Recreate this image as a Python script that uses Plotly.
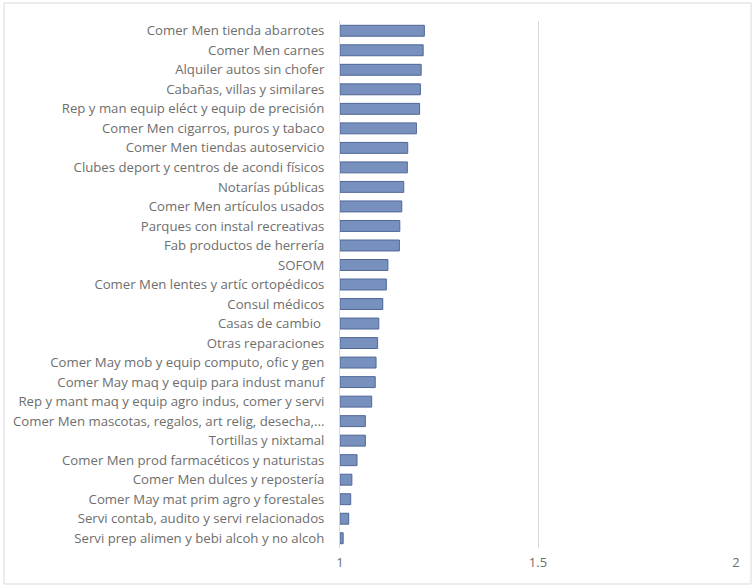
import plotly.graph_objects as go

categories = [
    "Comer Men tienda abarrotes",
    "Comer Men carnes",
    "Alquiler autos sin chofer",
    "Cabañas, villas y similares",
    "Rep y man equip eléct y equip de precisión",
    "Comer Men cigarros, puros y tabaco",
    "Comer Men tiendas autoservicio",
    "Clubes deport y centros de acondi físicos",
    "Notarías públicas",
    "Comer Men artículos usados",
    "Parques con instal recreativas",
    "Fab productos de herrería",
    "SOFOM",
    "Comer Men lentes y artíc ortopédicos",
    "Consul médicos",
    "Casas de cambio ",
    "Otras reparaciones",
    "Comer May mob y equip computo, ofic y gen",
    "Comer May maq y equip para indust manuf",
    "Rep y mant maq y equip agro indus, comer y servi",
    "Comer Men mascotas, regalos, art relig, desecha,...",
    "Tortillas y nixtamal",
    "Comer Men prod farmacéticos y naturistas",
    "Comer Men dulces y repostería",
    "Comer May mat prim agro y forestales",
    "Servi contab, audito y servi relacionados",
    "Servi prep alimen y bebi alcoh y no alcoh",
]
values = [1.213, 1.210, 1.205, 1.203, 1.201, 1.193, 1.171, 1.170, 1.161,
          1.156, 1.151, 1.150, 1.121, 1.117, 1.108, 1.098, 1.095, 1.091,
          1.089, 1.080, 1.064, 1.064, 1.043, 1.030, 1.027, 1.022, 1.008]
base_value = 1
tick_vals = [1, 1.5, 2]
tick_text = ["1", "1.5", "2"]

W, H = 754, 587
ml, mr, mt, mb = 340, 18, 21, 39

fig = go.Figure(go.Bar(
    y=categories,
    x=[v - base_value for v in values],
    base=base_value,
    orientation="h",
    marker=dict(color="#7890bd", line=dict(color="#4f6797", width=1)),
    width=0.56,
    hoverinfo="y+x",
))

pw = W - ml - mr
ph = H - mt - mb
def px_to_paper_x(px):
    return (px - ml) / pw
def px_to_paper_y(py):
    return 1 - (py - mt) / ph

fig.add_shape(type="rect", xref="paper", yref="paper",
              x0=px_to_paper_x(4), x1=px_to_paper_x(751),
              y0=px_to_paper_y(584), y1=px_to_paper_y(3),
              line=dict(color="#d9d9d9", width=1), fillcolor="rgba(0,0,0,0)",
              layer="below")

fig.update_layout(
    width=W, height=H,
    margin=dict(l=ml, r=mr, t=mt, b=mb),
    paper_bgcolor="white", plot_bgcolor="white",
    showlegend=False,
    font=dict(family="Open Sans, Arial, sans-serif", size=13.2, color="#6e6e6e"),
    bargap=0.44,
    xaxis=dict(range=[1, 2], tickvals=tick_vals, ticktext=tick_text,
               showgrid=True, gridcolor="#d9d9d9", gridwidth=1,
               zeroline=False, showline=False, ticks="",
               ticklabelstandoff=5, automargin=False,
               tickfont=dict(size=13, color="#6e6e6e")),
    yaxis=dict(autorange="reversed", showgrid=False, zeroline=False,
               showline=True, linecolor="#d9d9d9", linewidth=1,
               ticks="", ticklabelstandoff=12, automargin=False,
               tickfont=dict(size=13.2, color="#6e6e6e")),
)

fig.write_html("out.html", config={"displayModeBar": False},
               post_script="document.body.style.margin='0';document.body.style.overflow='hidden';")
